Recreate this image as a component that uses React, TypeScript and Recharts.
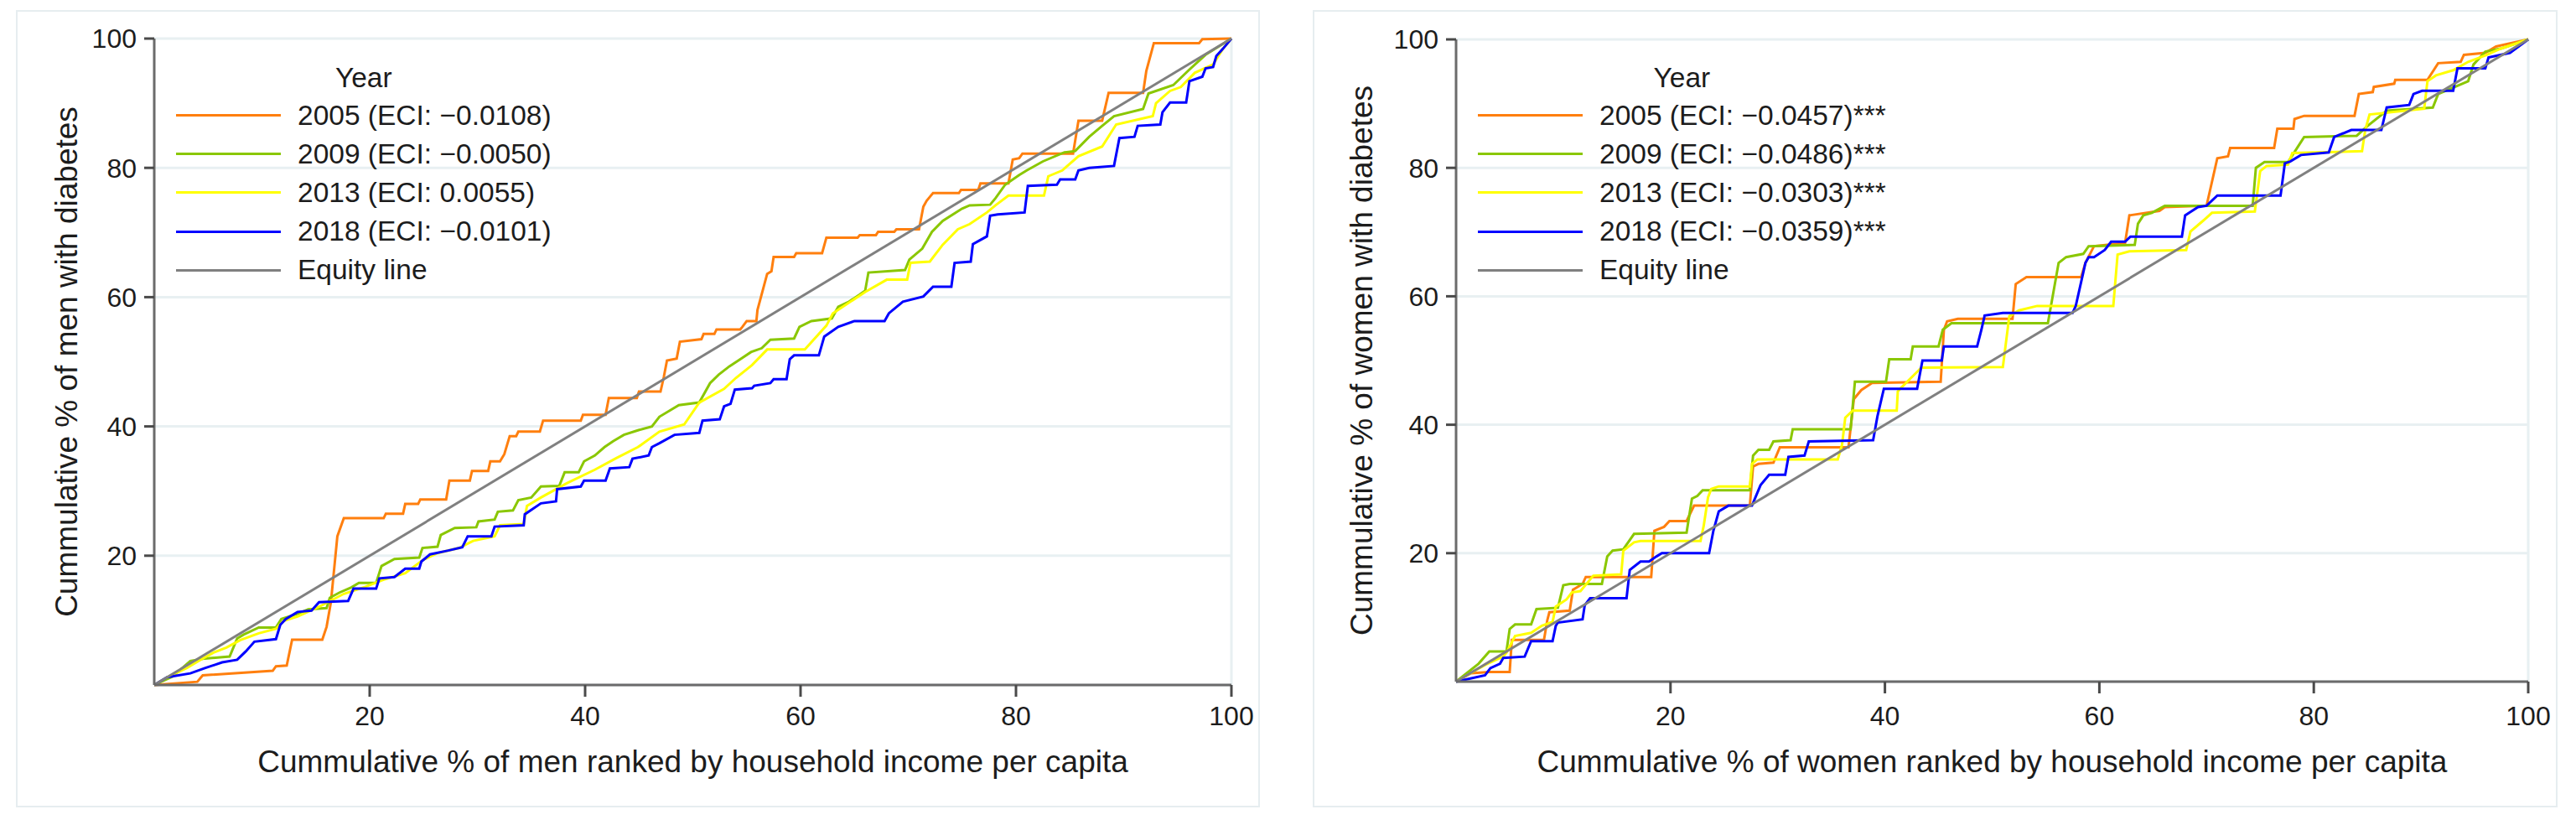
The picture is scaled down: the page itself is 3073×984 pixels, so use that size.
import { LineChart, Line, XAxis, YAxis, CartesianGrid, Legend, ReferenceLine } from "recharts";

const FONT = '"Liberation Sans", Arial, Helvetica, sans-serif';
const TEXT = "#1c1c1c";
const GRID = "#e8f0f2";
const FRAME = "#e6edf0";

const YEARS = ["2005", "2009", "2013", "2018"];
const COLORS = ["#ff7f0e", "#8ac700", "#ffff00", "#0000ff"];
const EQUITY_COLOR = "#808080";
const TICKS = [20, 40, 60, 80, 100];

const MEN_ECI = ["\u22120.0108", "\u22120.0050", "0.0055", "\u22120.0101"];
const MEN_SIG = ["", "", "", ""];
const WOMEN_ECI = ["\u22120.0457", "\u22120.0486", "\u22120.0303", "\u22120.0359"];
const WOMEN_SIG = ["***", "***", "***", "***"];

const EQUITY = [[0, 0], [100, 100]];

// men, cumulative % of men with diabetes vs cumulative % ranked by income
const MEN_2005 = [
  [0, 0], [4, 0.5], [4.5, 1.5], [11, 2.2], [11.3, 2.9], [12.3, 3.0], [12.8, 7.0], [15.6, 7.0], [16.0, 9],
  [16.4, 12.8], [17.0, 23], [17.6, 25.8], [21.3, 25.8], [21.5, 26.5], [23.1, 26.5], [23.3, 28.0], [24.5, 28.0],
  [24.7, 28.7], [27.1, 28.7], [27.4, 31.6], [29.3, 31.6], [29.5, 33.1], [31.0, 33.1], [31.2, 34.6], [32.1, 34.6],
  [32.5, 35.7], [33.0, 38.5], [33.6, 38.5], [33.8, 39.2], [35.8, 39.2], [36.1, 40.9], [39.6, 40.9], [39.8, 41.8],
  [41.9, 41.8], [42.2, 44.4], [44.8, 44.4], [45.0, 45.4], [47.0, 45.4], [47.3, 47.6], [47.6, 50.2], [48.5, 50.5],
  [48.8, 53.1], [50.8, 53.5], [51.0, 54.3], [52.0, 54.3], [52.2, 55.0], [54.4, 55.0], [54.6, 55.4], [55.0, 56.3],
  [55.9, 56.3], [56.0, 58], [56.9, 63.6], [57.3, 64], [57.5, 66.2], [59.4, 66.2], [59.6, 66.8], [62.0, 66.8],
  [62.4, 69.2], [65.3, 69.2], [65.5, 69.6], [67.0, 69.6], [67.2, 70.1], [68.7, 70.1], [68.9, 70.5], [71.0, 70.5],
  [71.4, 74.0], [71.7, 74.9], [72.0, 75.5], [72.3, 76.1], [74.7, 76.1], [74.9, 76.6], [76.5, 76.6], [76.7, 77.6],
  [79.3, 77.6], [79.7, 81.3], [80.3, 81.5], [80.6, 82.2], [85.3, 82.2], [85.8, 87.3], [88.0, 87.3], [88.6, 91.6],
  [91.8, 91.6], [92.1, 95], [92.8, 99.3], [97.0, 99.3], [97.3, 99.9], [100, 100],
];
const MEN_2009 = [
  [0, 0], [1.7, 1.3], [3.35, 3.7], [4.7, 4.1], [7.0, 4.4], [7.7, 7.2], [8.3, 7.8], [9.7, 8.9], [11.3, 8.9],
  [11.8, 10.2], [13.3, 11.0], [14.3, 11.7], [16.0, 11.9], [16.3, 13.5], [17.2, 14.3], [18.3, 15.1], [19.0, 15.8],
  [20.6, 15.8], [21.1, 18.4], [22.3, 19.5], [24.6, 19.7], [24.9, 21.2], [26.3, 21.4], [26.6, 23.2], [27.9, 24.3],
  [29.9, 24.4], [30.1, 25.3], [31.6, 25.6], [31.9, 26.8], [33.3, 27.0], [33.8, 28.6], [35.0, 29.0], [35.9, 30.7],
  [37.6, 30.8], [38.1, 32.9], [39.4, 32.9], [39.9, 34.6], [40.9, 35.5], [41.8, 36.8], [42.6, 37.7], [43.6, 38.7],
  [44.9, 39.4], [46.2, 40.0], [46.9, 41.5], [48.7, 43.3], [50.6, 43.7], [51.6, 46.7], [52.4, 48.0], [53.4, 49.3],
  [54.4, 50.4], [55.4, 51.5], [56.4, 52.1], [57.2, 53.4], [59.4, 53.6], [59.9, 55.4], [61.0, 56.3], [62.9, 56.7],
  [63.5, 58.5], [64.5, 59.3], [65.5, 60.4], [66.0, 61.0], [66.3, 63.8], [69.7, 64.2], [70.1, 65.8], [71.3, 67.5],
  [72.2, 70.1], [73.2, 71.8], [75.0, 73.7], [75.7, 74.2], [77.6, 74.3], [78.1, 75.3], [79.0, 77.4], [80.3, 78.9],
  [81.0, 79.6], [82.5, 81.0], [84.5, 82.4], [85.5, 82.6], [86.8, 84.8], [88.0, 86.5], [89.1, 88.0], [91.8, 89.1],
  [92.3, 91.5], [94.6, 92.8], [96.1, 95.2], [97.6, 97.5], [100, 100],
];
const MEN_2013 = [
  [0, 0], [1.2, 1.2], [3.0, 2.6], [4.3, 3.9], [5.5, 5.0], [6.7, 5.8], [8.0, 6.95], [9.7, 8.0], [11.3, 8.7],
  [12.0, 9.9], [13.3, 10.6], [15.3, 12.1], [17.6, 14.1], [19.6, 15.2], [21.3, 16.3], [23.3, 17.3], [24.9, 19.3],
  [26.3, 20.4], [28.3, 21.2], [29.6, 22.3], [31.6, 23.0], [32.1, 24.7], [34.3, 24.9], [34.6, 27.7], [35.9, 29.0],
  [38.3, 31.2], [40.9, 33.3], [42.9, 35.1], [44.9, 36.8], [46.9, 39.2], [49.2, 40.3], [50.6, 43.7], [52.9, 45.8],
  [54.0, 47.5], [55.5, 49.5], [56.9, 51.9], [60.4, 51.9], [62.4, 55.6], [63.0, 57.5], [66.0, 60.8], [68.0, 62.7],
  [69.9, 62.7], [70.2, 65.3], [72.0, 65.5], [73.2, 68.1], [74.6, 70.5], [75.7, 71.3], [77.3, 73.1], [78.1, 74.2],
  [79.3, 75.7], [82.6, 75.7], [83.0, 78.7], [84.3, 79.6], [85.8, 81.8], [88.0, 83.3], [89.3, 86.7], [92.7, 88.0],
  [93.0, 90.0], [94.3, 91.9], [95.3, 92.5], [96.6, 94.7], [98.3, 96.0], [99.2, 98.4], [100, 100],
];
const MEN_2018 = [
  [0, 0], [1.2, 1.2], [3.35, 1.8], [4.7, 2.6], [6.3, 3.5], [7.7, 3.9], [8.5, 5.2], [9.3, 6.7], [11.3, 7.1],
  [11.7, 9.3], [12.2, 10.2], [13.3, 11.3], [14.6, 11.5], [15.3, 12.8], [18.0, 13.0], [18.5, 14.9], [20.6, 14.9],
  [20.9, 16.5], [22.3, 16.7], [23.3, 18.0], [24.6, 18.0], [24.8, 19.1], [25.6, 20.2], [27.3, 20.8], [28.6, 21.3],
  [29.1, 23.0], [31.3, 23.0], [31.6, 24.5], [34.3, 24.7], [34.4, 26.4], [35.9, 28.1], [37.3, 28.4], [37.4, 30.3],
  [39.6, 30.7], [39.9, 31.6], [41.9, 31.6], [42.3, 33.5], [44.1, 33.7], [44.4, 35.0], [45.9, 35.5], [46.2, 36.8],
  [46.9, 37.4], [48.3, 38.7], [50.6, 39.0], [50.9, 40.9], [52.5, 41.1], [52.9, 43.1], [53.5, 43.5], [53.9, 45.7],
  [55.5, 45.9], [55.7, 46.3], [57.2, 46.7], [57.5, 47.3], [58.7, 47.3], [59.0, 50.4], [59.4, 51.0], [61.7, 51.0],
  [62.2, 53.9], [63.5, 55.4], [65.0, 56.3], [67.8, 56.3], [68.2, 57.5], [69.5, 59.3], [71.4, 60.1], [72.3, 61.6],
  [74.0, 61.6], [74.3, 65.3], [75.8, 65.5], [76.0, 68.2], [77.3, 69.4], [77.6, 72.6], [78.3, 72.8], [80.8, 73.1],
  [81.1, 77.2], [83.8, 77.4], [84.1, 78.2], [85.5, 78.2], [85.8, 79.6], [86.8, 80.0], [89.1, 80.3], [89.6, 84.6],
  [91.0, 84.8], [91.3, 86.5], [93.4, 86.7], [93.6, 88.6], [94.3, 90.1], [95.8, 90.1], [96.1, 93.4], [97.3, 94.1],
  [97.6, 95.4], [98.3, 95.6], [98.6, 97.3], [99.2, 98.4], [100, 100],
];

// women
const WOMEN_2005 = [
  [0, 0], [1.4, 1.3], [3.1, 1.5], [5.0, 1.5], [5.2, 6.5], [8.2, 6.5], [8.5, 9.5], [8.7, 10.8], [10.6, 11.05],
  [10.9, 14.3], [11.8, 15.2], [12.1, 16.3], [18.2, 16.3], [18.5, 23.5], [19.4, 24.1], [19.9, 25.0], [21.5, 25.0],
  [22.2, 27.4], [27.4, 27.4], [27.7, 33.5], [28.2, 33.9], [29.6, 34.1], [30.2, 36.5], [36.6, 36.5], [37.1, 44.0],
  [37.8, 45.4], [38.8, 46.5], [45.2, 46.7], [45.5, 54.8], [45.8, 56.1], [46.8, 56.5], [51.9, 56.5], [52.2, 61.9],
  [53.2, 63.0], [58.3, 63.0], [58.7, 65.2], [59.5, 67.8], [62.4, 68.3], [62.8, 72.6], [65.6, 73.3], [66.1, 73.9],
  [70.0, 74.1], [71.0, 81.5], [72.0, 81.8], [72.2, 83.1], [76.3, 83.1], [76.6, 86.1], [78.1, 86.1], [78.2, 87.6],
  [79.1, 88.1], [83.8, 88.1], [84.2, 91.5], [85.5, 91.8], [85.6, 92.6], [87.5, 93.1], [87.6, 93.7], [90.6, 93.7],
  [91.6, 96.3], [93.7, 96.5], [94.0, 97.6], [96.0, 97.9], [97.0, 98.9], [98.3, 99.4], [100, 100],
];
const WOMEN_2009 = [
  [0, 0], [2.1, 2.8], [3.1, 4.7], [4.7, 4.7], [5.0, 8.2], [5.5, 8.9], [7.0, 8.9], [7.5, 11.3], [9.5, 11.5],
  [10.0, 15.0], [10.6, 15.2], [13.6, 15.2], [14.1, 19.5], [14.6, 20.4], [15.6, 20.6], [16.6, 23.0], [21.5, 23.2],
  [22.0, 28.5], [22.5, 28.9], [23.0, 29.8], [27.4, 29.8], [27.7, 35.2], [28.2, 36.1], [29.2, 36.1], [29.6, 37.4],
  [31.2, 37.6], [31.4, 39.3], [36.8, 39.3], [37.2, 46.7], [40.1, 46.7], [40.4, 50.2], [42.4, 50.2], [42.6, 52.2],
  [45.0, 52.2], [45.4, 54.8], [46.2, 55.8], [55.2, 55.8], [56.2, 65.2], [56.9, 66.1], [58.5, 66.6], [59.0, 67.8],
  [63.3, 68.0], [63.6, 71.3], [64.1, 72.6], [64.9, 73.0], [66.1, 74.1], [74.3, 74.1], [74.6, 80.0], [75.4, 80.9],
  [77.6, 80.9], [78.6, 83.5], [79.1, 84.8], [84.0, 85.0], [85.0, 86.5], [86.8, 88.9], [91.1, 89.4], [91.6, 91.5],
  [94.4, 93.5], [94.9, 96.1], [96.0, 98.1], [97.5, 98.6], [100, 100],
];
const WOMEN_2013 = [
  [0, 0], [1.75, 1.7], [2.7, 2.6], [4.4, 3.9], [4.7, 4.5], [5.5, 7.1], [7.0, 7.6], [8.0, 8.7], [9.0, 9.3],
  [9.3, 11.7], [10.3, 12.8], [10.8, 13.9], [11.6, 14.1], [12.8, 16.5], [15.4, 16.7], [15.6, 20.4], [16.6, 21.7],
  [17.2, 21.9], [22.8, 21.9], [23.1, 24.3], [23.5, 28.7], [23.8, 30.0], [24.5, 30.4], [27.4, 30.4], [27.6, 33.9],
  [28.1, 34.6], [35.6, 34.6], [36.0, 36.9], [36.3, 41.1], [37.0, 42.2], [41.1, 42.2], [41.2, 45.2], [41.6, 45.9],
  [43.4, 48.9], [51.0, 49.0], [51.6, 56.9], [52.5, 57.8], [54.2, 58.5], [61.3, 58.5], [61.7, 66.5], [62.8, 67.0],
  [68.1, 67.2], [68.5, 70.1], [69.7, 71.8], [70.5, 73.0], [74.5, 73.2], [75.0, 79.5], [75.6, 80.3], [77.6, 80.5],
  [78.0, 82.3], [84.5, 82.6], [84.8, 85.9], [85.2, 88.3], [90.3, 89.2], [90.6, 93.5], [91.4, 94.4], [93.0, 95.2],
  [94.4, 96.5], [96.0, 97.5], [97.5, 98.6], [100, 100],
];
const WOMEN_2018 = [
  [0, 0], [2.7, 1.0], [3.2, 2.1], [4.1, 2.8], [4.4, 3.7], [6.4, 3.9], [7.0, 6.3], [9.0, 6.3], [9.3, 8.7],
  [9.5, 9.2], [11.8, 9.7], [12.0, 11.9], [12.5, 13.0], [15.9, 13.0], [16.2, 17.4], [17.2, 18.7], [18.0, 18.7],
  [18.7, 19.5], [19.2, 20.0], [23.6, 20.0], [24.0, 23.5], [24.5, 26.5], [25.4, 27.4], [27.6, 27.4], [28.4, 30.6],
  [29.2, 32.2], [30.7, 32.2], [31.0, 35.0], [32.5, 35.2], [32.9, 37.4], [38.9, 37.6], [39.3, 41.3], [39.9, 45.6],
  [43.0, 45.6], [43.5, 50.0], [45.3, 50.0], [45.5, 52.2], [48.6, 52.2], [49.0, 54.8], [49.3, 57.0], [51.0, 57.4],
  [57.5, 57.4], [57.8, 58.5], [58.7, 65.2], [59.0, 66.1], [59.5, 66.1], [60.5, 67.2], [61.1, 68.5], [62.4, 68.5],
  [62.9, 69.3], [67.7, 69.3], [68.0, 72.6], [69.2, 73.9], [70.0, 74.1], [71.0, 75.7], [76.9, 75.7], [77.3, 80.7],
  [77.8, 81.0], [78.8, 82.0], [81.4, 82.4], [81.9, 84.8], [83.5, 85.9], [86.3, 85.9], [86.8, 89.4], [88.9, 89.8],
  [89.3, 91.5], [90.1, 92.0], [93.0, 92.0], [93.4, 95.5], [96.0, 95.5], [96.3, 97.2], [98.3, 97.9], [100, 100],
];

const toPts = (arr: number[][]) => arr.map(([x, y]) => ({ x, y }));

type Geo = {
  x: number; // chart left on the page
  width: number;
  plotLeft: number;
  plotRight: number;
  plotTop: number;
  plotBottom: number;
  yTitleX: number;
  tickGap: number;
};

function YearLegend({ labels }: { labels: string[] }) {
  const colors = [...COLORS, EQUITY_COLOR];
  return (
    <div style={{ fontFamily: FONT, fontSize: 33.5, color: TEXT, display: "inline-block" }}>
      <div style={{ textAlign: "center", height: 45, lineHeight: "45px" }}>Year</div>
      {labels.map((lab, i) => (
        <div key={lab} style={{ display: "flex", alignItems: "center", height: 46.2 }}>
          <div style={{ width: 125, height: 3, background: colors[i], marginRight: 20, flex: "none" }} />
          <span style={{ whiteSpace: "nowrap" }}>{lab}</span>
        </div>
      ))}
    </div>
  );
}

function Panel({ geo, series, eci, sig, xTitle, yTitle }: {
  geo: Geo; series: number[][][]; eci: string[]; sig: string[]; xTitle: string; yTitle: string;
}) {
  const H = 984;
  const labels = [...YEARS.map((y, i) => `${y} (ECI: ${eci[i]})${sig[i]}`), "Equity line"];
  const tickStyle = { fontFamily: FONT, fontSize: 32, fill: TEXT };
  return (
    <div style={{ position: "absolute", left: geo.x, top: 0 }}>
      <LineChart
        width={geo.width}
        height={H}
        margin={{ top: geo.plotTop, right: geo.width - geo.plotRight, bottom: 0, left: 0 }}
      >
        <CartesianGrid vertical={false} stroke={GRID} strokeWidth={3} />
        <ReferenceLine x={100} stroke={GRID} strokeWidth={3} />
        <XAxis
          dataKey="x"
          type="number"
          domain={[0, 100]}
          ticks={TICKS}
          height={H - geo.plotBottom}
          tickSize={14}
          tickMargin={geo.tickGap}
          tick={tickStyle}
          axisLine={{ stroke: "#6b6b6b", strokeWidth: 3 }}
          tickLine={{ stroke: "#4a4a4a", strokeWidth: 3 }}
          label={{
            value: xTitle,
            position: "insideTop",
            offset: 908 - geo.plotBottom - 13,
            style: { fontFamily: FONT, fontSize: 37, fill: TEXT },
          }}
        />
        <YAxis
          type="number"
          domain={[0, 100]}
          ticks={TICKS}
          width={geo.plotLeft}
          tickSize={12}
          tickMargin={9}
          tick={tickStyle}
          axisLine={{ stroke: "#6b6b6b", strokeWidth: 3 }}
          tickLine={{ stroke: "#4a4a4a", strokeWidth: 3 }}
          label={{
            value: yTitle,
            angle: -90,
            position: "insideLeft",
            offset: geo.yTitleX,
            style: { fontFamily: FONT, fontSize: 37, fill: TEXT, textAnchor: "middle" },
          }}
        />
        <Legend
          layout="vertical"
          align="center"
          verticalAlign="middle"
          wrapperStyle={{ left: geo.plotLeft + 26, top: 69.5, width: "auto", height: "auto" }}
          content={() => <YearLegend labels={labels} />}
        />
        {series.map((s, i) => (
          <Line
            key={YEARS[i]}
            data={toPts(s)}
            dataKey="y"
            name={labels[i]}
            type="linear"
            stroke={COLORS[i]}
            strokeWidth={3}
            dot={false}
            activeDot={false}
            isAnimationActive={false}
          />
        ))}
        <Line
          data={toPts(EQUITY)}
          dataKey="y"
          name="Equity line"
          type="linear"
          stroke={EQUITY_COLOR}
          strokeWidth={3}
          dot={false}
          activeDot={false}
          isAnimationActive={false}
        />
      </LineChart>
    </div>
  );
}

const LEFT_GEO: Geo = {
  x: 0, width: 1536, plotLeft: 184, plotRight: 1469, plotTop: 46, plotBottom: 817, yTitleX: 78.6, tickGap: 11,
};
const RIGHT_GEO: Geo = {
  x: 1540, width: 1533, plotLeft: 197, plotRight: 1476, plotTop: 47, plotBottom: 813, yTitleX: 84, tickGap: 15,
};

export default function App() {
  return (
    <div style={{ position: "absolute", left: 0, top: 0, width: 3073, height: 984, background: "#fff", overflow: "hidden" }}>
      <div style={{ position: "absolute", left: 19, top: 12, width: 1484, height: 951, border: `2px solid ${FRAME}`, boxSizing: "border-box" }} />
      <div style={{ position: "absolute", left: 1566, top: 12, width: 1485, height: 951, border: `2px solid ${FRAME}`, boxSizing: "border-box" }} />
      <Panel
        geo={LEFT_GEO}
        series={[MEN_2005, MEN_2009, MEN_2013, MEN_2018]}
        eci={MEN_ECI}
        sig={MEN_SIG}
        xTitle="Cummulative % of men ranked by household income per capita"
        yTitle="Cummulative % of men with diabetes"
      />
      <Panel
        geo={RIGHT_GEO}
        series={[WOMEN_2005, WOMEN_2009, WOMEN_2013, WOMEN_2018]}
        eci={WOMEN_ECI}
        sig={WOMEN_SIG}
        xTitle="Cummulative % of women ranked by household income per capita"
        yTitle="Cummulative % of women with diabetes"
      />
    </div>
  );
}
